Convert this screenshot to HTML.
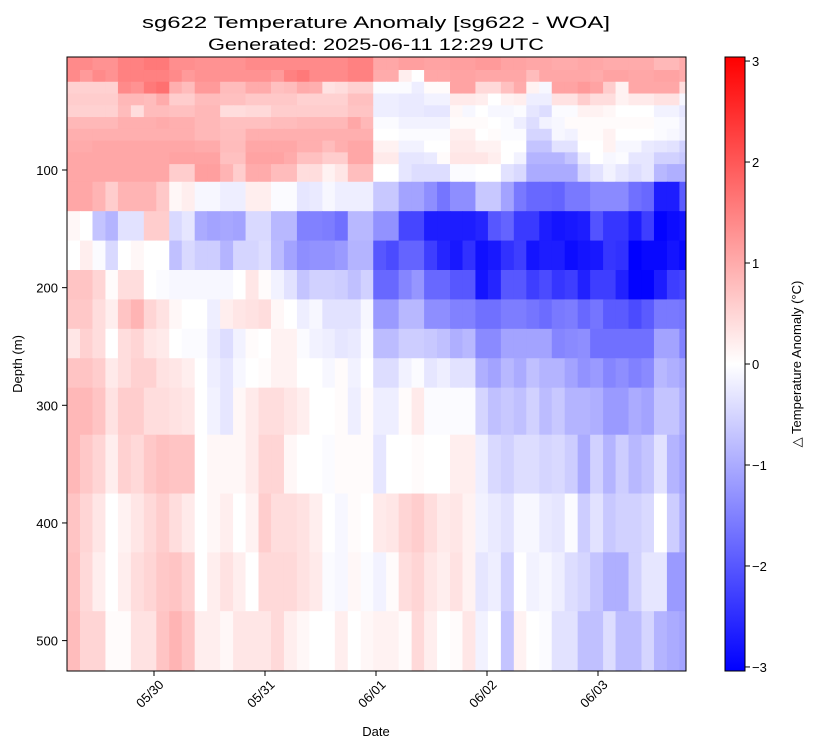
<!DOCTYPE html>
<html><head><meta charset="utf-8"><style>
html,body{margin:0;padding:0;background:#fff;}
svg{display:block;font-family:"Liberation Sans","DejaVu Sans",sans-serif;}
</style></head><body>
<svg id="chart" width="814" height="748" viewBox="0 0 814 748" xmlns="http://www.w3.org/2000/svg">
<defs>
<clipPath id="plotclip"><rect x="67" y="57" width="619" height="614"/></clipPath>
<linearGradient id="bwr" x1="0" y1="0" x2="0" y2="1">
<stop offset="0" stop-color="#ff0000"/><stop offset="0.5" stop-color="#ffffff"/><stop offset="1" stop-color="#0000ff"/>
</linearGradient>
</defs>
<rect width="814" height="748" fill="#fff"/>
<text x="376" y="28" text-anchor="middle" font-size="17" textLength="468" lengthAdjust="spacingAndGlyphs">sg622 Temperature Anomaly [sg622 - WOA]</text>
<text x="376" y="50" text-anchor="middle" font-size="17" textLength="336" lengthAdjust="spacingAndGlyphs">Generated: 2025-06-11 12:29 UTC</text>
<g id="cells" clip-path="url(#plotclip)"></g>
<rect x="67" y="57" width="619" height="614" fill="none" stroke="#000" stroke-width="1"/>
<g id="xaxis"></g>
<g id="yaxis"></g>
<text x="376" y="736" text-anchor="middle" font-size="13">Date</text>
<text transform="translate(22,364) rotate(-90)" text-anchor="middle" font-size="13">Depth (m)</text>
<rect x="725" y="57" width="20" height="614" fill="url(#bwr)" stroke="#000" stroke-width="1"/>
<g id="cbaxis"></g>
<text transform="translate(801,364) rotate(-90)" text-anchor="middle" font-size="13">△ Temperature Anomaly (°C)</text>
</svg>
<script>
const depthEdges = [4,15,25,35,45,55,65,75,85,95,110,135,160,185,210,235,260,285,325,375,425,475,525];
const diveHours = [5.2,8.0,10.7,13.5,16.2,19.0,21.8,24.5,27.3,30.0,32.8,35.5,38.3,41.1,43.8,46.6,49.3,52.1,54.9,57.6,60.4,63.1,65.9,68.7,71.4,74.2,76.9,79.7,82.4,85.2,88.0,90.7,93.5,96.2,99.0,101.8,104.5,107.3,110.0,112.8,115.6,118.3,121.1,123.8,126.6,129.4,132.1,134.9,137.6,140.4];
const xTickHours = [24,48,72,96,120];
const xTickLabels = ["05/30","05/31","06/01","06/02","06/03"];
const yTicks = [100,200,300,400,500];
const cbTicks = [3,2,1,0,-1,-2,-3];
const vmax = 3.04;
const r0=[1.4,1.4,1.3,1.3,1.5,1.5,1.6,1.6,1.35,1.35,1.3,1.3,1.3,1.3,1.4,1.4,1.4,1.4,1.4,1.4,1.4,1.4,1.5,1.5,1.05,1.05,1.15,1.15,1.1,1.1,1.15,1.15,1.2,1.2,1.1,1.1,1.05,1.05,1.0,1.0,1.05,1.05,1.0,1.0,1.0,1.0,0.85,0.85,1.0];
const r1=[1.4,1.2,1.4,1.3,1.5,1.5,1.5,1.5,1.4,1.2,1.3,1.3,1.3,1.3,1.3,1.3,1.2,1.5,1.6,1.4,1.4,1.4,1.5,1.5,1.0,1.0,0.2,0,1.05,1.05,1.1,1.1,1.05,1.05,1.05,1.05,0.8,1.05,1.05,1.05,1.05,1.0,1.1,1.1,1.05,1.05,1.1,1.1,1.0];
const r2=[0.55,0.55,0.55,0.55,1.4,1.3,1.6,1.7,0.95,0.8,1.2,1.2,0.8,0.8,1.0,1.0,0.75,0.8,1.0,0.95,0.35,0.4,0.55,0.55,-0.05,-0.05,-0.05,-0.2,0.05,0.05,1.1,1.1,0.45,0.45,0.75,1.0,0.15,-0.1,1.1,1.1,1.2,1.1,0.6,0.15,1.05,1.05,1.05,1.05,0.4];
const r3=[0.6,0.6,0.6,0.6,0.85,0.85,0.8,1.0,0.6,0.6,0.8,0.8,0.75,0.75,0.65,0.65,0.65,0.65,0.55,0.55,0.55,0.55,0.75,0.75,-0.2,-0.2,-0.25,-0.25,-0.15,-0.15,0.25,0.25,0.2,0,0.15,0.2,-0.2,-0.2,0.35,0.35,0.6,0.4,0.4,0.15,0.25,0.25,0.35,0.35,-0.1];
const r4=[0.55,0.55,0.55,0.55,0.8,0.4,0.8,0.8,0.75,0.75,0.85,0.85,0.4,0.4,0.45,0.45,0.6,0.6,0.6,0.6,0.6,0.6,0.7,0.7,-0.2,-0.2,-0.25,-0.25,-0.3,-0.3,0.1,-0.1,0,-0.1,-0.1,-0.05,-0.3,-0.4,-0.05,-0.05,0.15,0.15,0.1,0,0,0,-0.15,-0.15,-0.3];
const r5=[0.85,0.85,0.85,0.85,0.95,0.95,0.95,1.0,0.95,0.95,0.85,0.85,0.75,0.75,0.75,0.75,0.8,0.8,0.85,0.85,0.85,0.85,1.05,0.85,-0.05,-0.05,-0.15,-0.15,-0.15,-0.15,0.05,0.05,0.05,0,-0.05,-0.2,-0.4,-0.15,-0.1,0.05,0.05,0.05,0.05,0.05,0.05,0.05,-0.05,-0.05,-0.2];
const r6=[0.95,0.95,0.95,0.95,0.95,0.95,0.95,0.95,0.95,0.95,0.85,0.85,0.78,0.78,0.95,0.95,0.95,0.95,0.95,0.95,0.95,0.95,0.95,0.95,0,0,-0.05,-0.05,-0.05,-0.05,0.2,0.2,0,0.05,-0.05,-0.05,-0.5,-0.5,-0.1,-0.15,0.05,0.05,0.15,0,0,0,-0.05,-0.1,-0.2];
const r7=[1.0,1.0,1.05,1.05,1.05,1.05,1.05,1.05,1.05,1.05,1.0,1.0,0.8,0.8,1.05,1.05,1.05,1.05,0.95,0.95,0.8,0.95,1.05,1.05,0.15,0.15,-0.15,-0.15,0,0,0.25,0.25,0.15,0.15,0,0,-0.7,-0.7,-0.35,-0.35,0,0,0.15,-0.1,-0.1,-0.25,-0.3,-0.35,-0.55];
const r8=[1.05,1.05,1.05,1.05,1.05,1.05,1.05,1.05,1.1,1.1,1.1,1.1,0.75,0.75,1.1,1.1,1.1,1.0,0.75,0.75,0.6,0.6,1.05,1.05,0.25,0.25,-0.3,-0.3,-0.25,0.05,0.3,0.3,0.3,0.2,0,-0.15,-0.9,-0.9,-0.9,-0.7,-0.25,0,-0.1,-0.05,-0.3,-0.3,-0.55,-0.55,-0.65];
const r9=[1.05,1.05,1.05,1.05,1.05,1.05,1.05,1.05,0.6,0.6,1.15,1.15,0.9,0.6,1.0,1.0,0.8,0.8,0.4,0.4,0.15,0.3,0.78,0.78,0,0,-0.3,-0.4,-0.4,-0.4,-0.05,-0.05,0,0,-0.35,-0.45,-1.0,-1.0,-1.0,-1.0,-0.5,-0.35,-0.15,-0.3,-0.4,-0.3,-0.85,-0.95,-0.95];
const r10=[1.05,1.05,0.9,0.6,0.9,0.9,0.9,0.65,0.1,0.2,-0.1,-0.1,-0.2,-0.2,0.2,0.2,-0.05,-0.05,-0.3,-0.25,-0.1,-0.2,-0.2,-0.2,-0.65,-0.65,-1.1,-1.1,-1.35,-1.65,-1.35,-1.35,-0.65,-0.65,-1.1,-1.6,-1.8,-1.8,-1.85,-1.6,-1.6,-1.4,-1.4,-1.4,-1.7,-1.8,-2.7,-2.7,-1.95];
const r11=[0.1,0,-0.7,-0.9,-0.35,-0.35,0.6,0.6,-0.45,-0.3,-1.0,-1.1,-1.05,-1.1,-0.45,-0.45,-0.85,-0.85,-1.5,-1.5,-1.55,-1.7,-0.85,-0.85,-1.3,-1.3,-2.2,-2.2,-2.7,-2.7,-2.7,-2.7,-2.6,-2.0,-1.85,-2.35,-2.35,-2.7,-2.8,-2.75,-2.7,-2.05,-2.4,-2.4,-2.7,-2.3,-3.0,-2.9,-2.8];
const r12=[0,0.2,-0.05,-0.45,0,0.1,0,0,-0.75,-0.45,-0.6,-0.6,-0.9,-0.5,-0.5,-0.4,-0.8,-1.1,-1.35,-1.3,-1.3,-1.2,-0.9,-0.9,-2.0,-2.15,-1.85,-1.85,-2.3,-2.6,-2.75,-2.45,-2.85,-2.75,-2.45,-2.3,-2.8,-2.7,-2.7,-2.9,-2.8,-2.75,-2.4,-2.45,-3.04,-2.95,-2.95,-2.8,-2.95];
const r13=[0.7,0.7,0.5,0.05,0.4,0.4,0,-0.05,-0.1,-0.1,-0.1,-0.1,-0.1,0,0.3,0.05,-0.15,-0.35,-0.7,-0.55,-0.55,-0.6,-0.75,-0.55,-1.8,-1.8,-1.45,-1.25,-1.8,-1.8,-2.0,-2.0,-2.8,-2.6,-2.0,-2.0,-2.3,-2.15,-2.4,-2.3,-2.65,-2.3,-2.3,-2.65,-3.0,-3.0,-2.7,-2.3,-2.2];
const r14=[0.65,0.65,0.4,0.2,0.7,0.9,0.5,0.35,0.1,0,0,-0.2,0.2,0.3,0.35,0.4,0.1,0,-0.2,-0.1,-0.35,-0.35,-0.35,-0.1,-1.2,-1.2,-0.85,-0.85,-1.35,-1.35,-1.5,-1.5,-1.7,-1.7,-1.55,-1.55,-1.65,-1.75,-1.6,-1.55,-1.8,-1.65,-1.95,-1.95,-2.15,-1.95,-1.6,-1.6,-1.65];
const r15=[0.3,0.55,0.4,0,0.4,0.5,0.3,0.25,0,-0.05,-0.05,-0.25,-0.4,-0.15,0.05,0,0.15,0.15,-0.05,-0.15,-0.2,-0.3,-0.25,-0.05,-0.8,-0.8,-0.6,-0.6,-0.65,-0.75,-0.95,-0.85,-1.4,-1.4,-1.1,-1.1,-1.1,-1.1,-1.45,-1.4,-1.35,-1.7,-1.7,-1.7,-1.7,-1.7,-1.1,-1.1,-1.5];
const r16=[0.7,0.7,0.6,0.25,0.4,0.55,0.55,0.35,0.3,0.2,0,-0.2,-0.3,-0.1,0,0.05,0.15,0.15,0,0,-0.1,0.05,-0.15,0,-0.4,-0.4,-0.15,-0.05,-0.3,-0.2,-0.35,-0.35,-0.95,-1.1,-0.85,-1.0,-0.75,-0.9,-0.9,-1.1,-1.3,-1.2,-1.45,-1.35,-1.5,-1.4,-0.85,-0.95,-1.1];
const r17=[0.85,0.85,0.7,0.35,0.6,0.6,0.4,0.4,0.35,0.3,0,-0.15,-0.3,0.1,0.25,0.4,0.4,0.3,0.2,0,0,0.05,-0.2,0.05,-0.2,-0.2,0.05,0.25,-0.05,-0.05,-0.05,-0.05,-0.5,-0.75,-0.65,-0.75,-0.55,-0.8,-0.65,-0.9,-0.9,-0.95,-1.2,-1.2,-1.0,-1.1,-0.7,-0.7,-1.0];
const r18=[0.85,0.65,0.5,0.2,0.55,0.45,0.65,0.75,0.7,0.7,0,0.1,0.1,0.1,0.25,0.5,0.5,0.1,0,0,-0.05,0.05,0.05,0.05,-0.3,0,0,0.05,0,0,0.2,0.2,-0.2,-0.45,-0.55,-0.4,-0.4,-0.5,-0.45,-0.6,-1.0,-0.55,-0.9,-0.6,-0.85,-0.7,-0.35,-0.9,-1.1];
const r19=[0.7,0.5,0.3,0,0.15,0.3,0.45,0.6,0.4,0.25,0,0.1,0.2,0,0.15,0.6,0.4,0.4,0.35,0.2,0,-0.1,0.05,0,0.25,0.3,0.5,0.6,0.4,0.25,0.3,0.15,-0.15,-0.25,-0.35,-0.1,-0.1,-0.25,-0.3,-0.05,-0.6,-0.35,-0.65,-0.55,-0.55,-0.45,0,-0.6,-1.0];
const r20=[0.75,0.45,0.2,0,0.2,0.4,0.5,0.65,0.7,0.55,0,0.2,0.35,0.2,0,0.45,0.45,0.45,0.35,0.25,-0.05,-0.1,0.1,-0.05,-0.15,0.05,0.4,0.5,0.3,0.2,0.35,0.15,-0.3,-0.2,-0.55,0,-0.15,-0.1,-0.2,-0.4,-0.5,-0.7,-0.95,-0.95,-0.55,-0.3,-0.3,-1.2,-1.2];
const r21=[0.8,0.5,0.5,0.05,0.05,0.35,0.35,0.7,0.9,0.7,0.2,0.2,0.1,0.3,0.3,0.3,0.45,0.2,0.1,0,0,0.2,0,0.1,0.15,0.15,0.05,0.45,0.2,0,0.05,0.3,-0.15,0,-0.7,0.15,0,-0.05,-0.35,-0.35,-0.75,-0.75,-0.4,-0.8,-0.8,-0.5,-0.9,-1.0,-1.1];
const anomalyRows = [r0,r1,r2,r3,r4,r5,r6,r7,r8,r9,r10,r11,r12,r13,r14,r15,r16,r17,r18,r19,r20,r21];

const NS = "http://www.w3.org/2000/svg";
function xScale(h){ return 376 + (h/24 - 3) * 111; }
function yScale(d){ return 170 + (d - 100) * 1.1765; }
function cbScale(v){ return 364 - v * (307 / vmax); }
function bwr(v){
  let t = (Math.max(-vmax, Math.min(vmax, v)) + vmax) / (2 * vmax);
  let r, g, b;
  if (t < 0.5){ r = g = Math.round(510 * t); b = 255; }
  else { r = 255; g = b = Math.round(510 * (1 - t)); }
  return "rgb(" + r + "," + g + "," + b + ")";
}
function mk(tag, attrs, parent){
  const el = document.createElementNS(NS, tag);
  for (const k in attrs) el.setAttribute(k, attrs[k]);
  parent.appendChild(el);
  return el;
}
const cells = document.getElementById("cells");
anomalyRows.forEach((row, ri) => {
  const y0 = yScale(depthEdges[ri]), y1 = yScale(depthEdges[ri + 1]);
  row.forEach((v, ci) => {
    const x0 = xScale(diveHours[ci]), x1 = xScale(diveHours[ci + 1]);
    const rc = mk("rect", {x: x0, y: y0, width: x1 - x0 + 0.6, height: y1 - y0 + 0.6, fill: bwr(v)}, cells);
    
    
  });
});
const xa = document.getElementById("xaxis");
xTickHours.forEach((h, i) => {
  const x = xScale(h);
  const tk = mk("line", {x1: x, x2: x, y1: 671, y2: 676, stroke: "#000", "stroke-width": 1}, xa);
  
  
  const tx = mk("text", {transform: "translate(" + (x - 1) + ",697) rotate(-45)", "text-anchor": "middle", "font-size": 13}, xa);
  tx.textContent = xTickLabels[i];
  
  
});
const ya = document.getElementById("yaxis");
yTicks.forEach(d => {
  const y = yScale(d);
  const tk = mk("line", {x1: 62, x2: 67, y1: y, y2: y, stroke: "#000", "stroke-width": 1}, ya);
  
  
  const tx = mk("text", {x: 58, y: y + 5, "text-anchor": "end", "font-size": 13}, ya);
  tx.textContent = String(d);
  
  
});
const ca = document.getElementById("cbaxis");
cbTicks.forEach(v => {
  const y = cbScale(v);
  const tk = mk("line", {x1: 745, x2: 750, y1: y, y2: y, stroke: "#000", "stroke-width": 1}, ca);
  
  
  const tx = mk("text", {x: 752, y: y + 5, "font-size": 13}, ca);
  tx.textContent = v < 0 ? "\u2212" + Math.abs(v) : String(v);
  
  
});
</script>
</body></html>
